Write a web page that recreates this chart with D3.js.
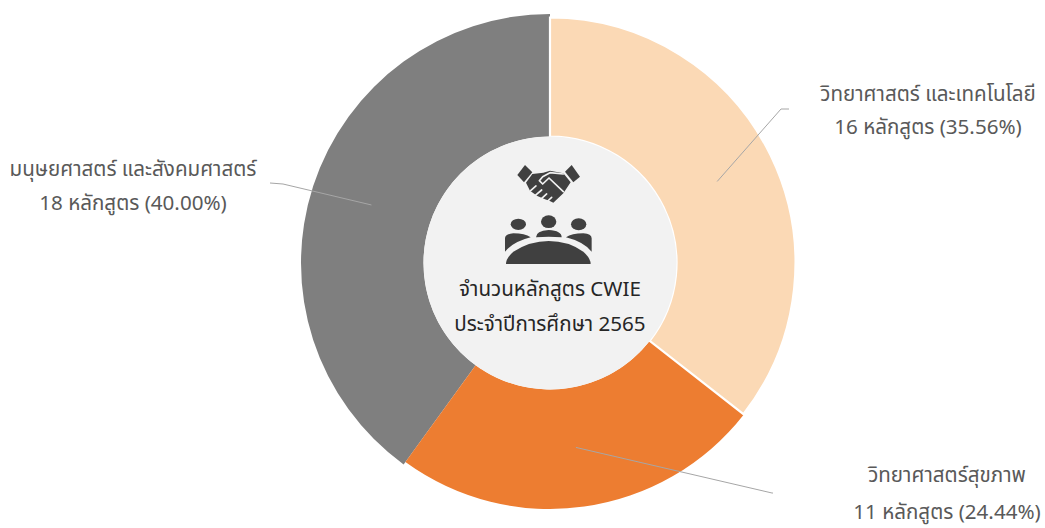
<!DOCTYPE html>
<html lang="th">
<head>
<meta charset="utf-8">
<script src="https://cdn.jsdelivr.net/npm/d3@7"></script>
<style>
html,body{margin:0;padding:0;background:#fff;}
svg{display:block;}
text{font-family:"Noto Sans Thai","Noto Sans","Open Sans","DejaVu Sans",sans-serif;}
</style>
</head>
<body>
<svg id="chart" width="1045" height="528"></svg>
<script>
const categories = ["วิทยาศาสตร์ และเทคโนโลยี","วิทยาศาสตร์สุขภาพ","มนุษยศาสตร์ และสังคมศาสตร์"];
const courseCounts = [16,11,18];
const percentLabels = ["35.56%","24.44%","40.00%"];
const sliceColors = ["#fbd9b5","#ed7d31","#7f7f7f"];
const countUnit = "หลักสูตร";
const centerLines = ["จำนวนหลักสูตร CWIE","ประจำปีการศึกษา 2565"];

const cx=550,cy=263,r0=126.5;
const outerRadii=[245.5,246,249];
const layout=[
 {elbow:[781,109],end:[789,109],lx:928,ly:[101,134]},
 {elbow:[772,493],end:[773,493],lx:947,ly:[482,519]},
 {elbow:[283,184],end:[270,183],lx:133,ly:[176,210]}
];
const svg=d3.select("#chart");
const g=svg.append("g").attr("transform",`translate(${cx},${cy})`);
const arcs=d3.pie().sort(null).value(d=>d)(courseCounts);
const arc=d3.arc().innerRadius(r0).outerRadius(d=>outerRadii[d.index]);
// gray first, then orange, then peach carrying the white seam
const order=[2,1,0];
g.selectAll("path.slice").data(order.map(i=>arcs[i])).join("path").attr("class","slice")
 .attr("d",arc).attr("fill",d=>sliceColors[d.index])
 .attr("stroke",d=>d.index===0?"#fff":"none").attr("stroke-width",d=>d.index===0?2.2:0);
g.append("circle").attr("r",r0).attr("fill","#f2f2f2");

svg.selectAll("path.leader").data(arcs).join("path").attr("class","leader")
 .attr("fill","none").attr("stroke","#a6a6a6").attr("stroke-width",1)
 .attr("d",d=>{const c=arc.centroid(d);const l=layout[d.index];return d3.line()([[c[0]+cx,c[1]+cy],l.elbow,l.end]);});

categories.forEach((c,i)=>{
 const t=svg.append("g").attr("text-anchor","middle").attr("fill","#595959").attr("font-size",20.6);
 t.append("text").attr("x",layout[i].lx).attr("y",layout[i].ly[0]).text(c);
 t.append("text").attr("x",layout[i].lx).attr("y",layout[i].ly[1]).text(`${courseCounts[i]} ${countUnit} (${percentLabels[i]})`);
});
centerLines.forEach((s,i)=>{
 svg.append("text").attr("x",550).attr("y",[296,331][i]).attr("text-anchor","middle")
  .attr("fill","#262626").attr("font-size",20.6).text(s);
});

// icons, drawn in a 3x working grid
const ink="#404040", bg="#f2f2f2";
const icon=svg.append("g").attr("transform","translate(500,160) scale(0.3333)").attr("fill",ink);
[[55,193,23,17],[146,185,23,19],[236,193,23,18]].forEach(h=>{
 icon.append("ellipse").attr("cx",h[0]).attr("cy",h[1]).attr("rx",h[2]).attr("ry",h[3]);
});
icon.append("path").attr("d","M15,275 L15,235 Q15,222 40,220 Q75,220 92,232 Q40,245 15,275Z");
icon.append("path").attr("d","M108,232 Q108,212 146,210 Q185,212 185,232 Q146,228 108,232Z");
icon.append("path").attr("d","M275,275 L275,235 Q275,222 250,220 Q215,220 198,232 Q250,245 275,275Z");
icon.append("path").attr("d","M18,312 Q18,295 40,275 Q90,243 146,243 Q205,243 250,275 Q272,295 272,312Z");
// handshake
icon.append("path").attr("d","M52,45 L75,15 L97,37 L72,67Z");
icon.append("path").attr("d","M195,35 L215,15 L240,50 L220,67Z");
icon.append("path").attr("d","M97,42 L130,38 L150,32 L190,40 L212,67 L190,100 L160,128 L148,122 L135,118 L112,108 L90,92 L78,68Z");
const seam=icon.append("g").attr("fill","none").attr("stroke",bg).attr("stroke-width",5).attr("stroke-linecap","round").attr("stroke-linejoin","round");
seam.append("path").attr("d","M190,42 L150,38 L128,50 L118,62 L128,72 L147,54 L190,95");
seam.append("path").attr("d","M108,78 L92,92 M125,90 L106,106 M140,102 L122,118 M155,112 L140,126");
</script>
</body>
</html>
